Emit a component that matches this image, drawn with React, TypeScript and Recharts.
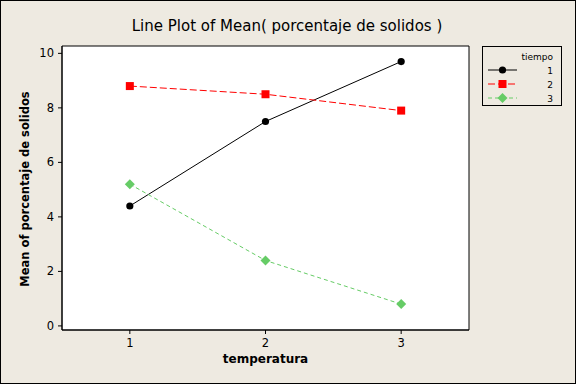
import React from "react";
import {
  LineChart,
  Line,
  XAxis,
  YAxis,
  ReferenceArea,
  Legend,
} from "recharts";

const temperatura = [1, 2, 3];
const tiempo1 = [4.4, 7.5, 9.7];
const tiempo2 = [8.8, 8.5, 7.9];
const tiempo3 = [5.2, 2.4, 0.8];
const xTicks = [1, 2, 3];
const yTicks = [0, 2, 4, 6, 8, 10];
const seriesNames = ["1", "2", "3"];

const data = temperatura.map((t, i) => ({
  temperatura: t,
  s1: tiempo1[i],
  s2: tiempo2[i],
  s3: tiempo3[i],
}));

const BG = "#EEEAE1";
const FONT = "'DejaVu Sans', sans-serif";
const GREEN = "#66CC66";

const CircleDot = (props: any) => {
  const { cx, cy } = props;
  if (cx == null || cy == null) return null;
  return <circle cx={cx} cy={cy} r={3.6} fill="#000" stroke="none" />;
};
const SquareDot = (props: any) => {
  const { cx, cy } = props;
  if (cx == null || cy == null) return null;
  return <rect x={cx - 4} y={cy - 4} width={8} height={8} fill="#FF0000" stroke="none" />;
};
const DiamondDot = (props: any) => {
  const { cx, cy } = props;
  if (cx == null || cy == null) return null;
  const r = 5;
  return (
    <polygon
      points={`${cx},${cy - r} ${cx + r},${cy} ${cx},${cy + r} ${cx - r},${cy}`}
      fill={GREEN}
      stroke="none"
    />
  );
};

const legendItems = [
  { name: seriesNames[0], color: "#000", dash: undefined as string | undefined, Dot: CircleDot },
  { name: seriesNames[1], color: "#FF0000", dash: "7 3", Dot: SquareDot },
  { name: seriesNames[2], color: GREEN, dash: "4 3", Dot: DiamondDot },
];

const renderLegend = () => (
  <div
    style={{
      width: 80,
      height: 60,
      border: "1px solid #000",
      boxSizing: "border-box",
      background: BG,
      position: "relative",
      fontFamily: FONT,
    }}
  >
    <svg width={78} height={58} style={{ position: "absolute", left: 0, top: 0 }}>
      <text x={70} y={13} textAnchor="end" fontSize={9} fill="#000" fontFamily={FONT}>
        tiempo
      </text>
      {legendItems.map((it, i) => {
        const y = 23 + i * 14;
        return (
          <g key={it.name}>
            <line x1={5} x2={34} y1={y} y2={y} stroke={it.color} strokeDasharray={it.dash} strokeWidth={1} />
            <it.Dot cx={19.5} cy={y} />
            <text x={70} y={y + 3.5} textAnchor="end" fontSize={9} fill="#000" fontFamily={FONT}>
              {it.name}
            </text>
          </g>
        );
      })}
    </svg>
  </div>
);

export default function App() {
  return (
    <div
      style={{
        position: "absolute",
        left: 0,
        top: 0,
        width: 576,
        height: 384,
        background: BG,
        boxShadow: "inset 0 0 0 1px #000",
      }}
    >
      <div
        style={{
          position: "absolute",
          left: 0,
          top: 17,
          width: 574,
          textAlign: "center",
          fontFamily: FONT,
          fontSize: 15,
          color: "#000",
          lineHeight: "18px",
        }}
      >
        Line Plot of Mean( porcentaje de solidos )
      </div>
      <div style={{ position: "absolute", left: 0, top: 0 }}>
        <LineChart
          width={576}
          height={384}
          data={data}
          margin={{ top: 46, right: 107, bottom: 24, left: 0 }}
        >
          <ReferenceArea
            x1={0.5}
            x2={3.5}
            y1={-0.15}
            y2={10.27}
            fill="#FFFFFF"
            fillOpacity={1}
            stroke="#000"
            strokeWidth={1}
            ifOverflow="visible"
          />
          <XAxis
            dataKey="temperatura"
            type="number"
            domain={[0.5, 3.5]}
            ticks={xTicks}
            allowDataOverflow
            height={30}
            tickSize={4}
            tickMargin={5}
            stroke="#000"
            tick={{ fill: "#000", fontSize: 11.5, fontFamily: FONT }}
            label={(p: any) => (
              <text
                x={265.5}
                y={363}
                textAnchor="middle"
                fontSize={12}
                fontWeight="bold"
                fontFamily={FONT}
                fill="#000"
              >
                temperatura
              </text>
            )}
          />
          <YAxis
            type="number"
            domain={[-0.15, 10.27]}
            ticks={yTicks}
            allowDataOverflow
            width={62}
            tickSize={4}
            tickMargin={4}
            stroke="#000"
            tick={{ fill: "#000", fontSize: 11.5, fontFamily: FONT }}
            label={(p: any) => (
              <text
                x={29}
                y={189}
                transform="rotate(-90 29 189)"
                textAnchor="middle"
                fontSize={11.5}
                fontWeight="bold"
                fontFamily={FONT}
                fill="#000"
              >
                Mean of porcentaje de solidos
              </text>
            )}
          />
          <Legend
            layout="horizontal"
            verticalAlign="middle"
            align="center"
            content={renderLegend}
            wrapperStyle={{ position: "absolute", left: 482, top: 46, width: 80, height: 60 }}
          />
          <Line
            dataKey="s1"
            name={seriesNames[0]}
            stroke="#000"
            strokeWidth={1}
            dot={<CircleDot />}
            activeDot={false}
            isAnimationActive={false}
          />
          <Line
            dataKey="s2"
            name={seriesNames[1]}
            stroke="#FF0000"
            strokeWidth={1}
            strokeDasharray="7 3"
            dot={<SquareDot />}
            activeDot={false}
            isAnimationActive={false}
          />
          <Line
            dataKey="s3"
            name={seriesNames[2]}
            stroke={GREEN}
            strokeWidth={1}
            strokeDasharray="4 3"
            dot={<DiamondDot />}
            activeDot={false}
            isAnimationActive={false}
          />
        </LineChart>
      </div>
    </div>
  );
}
